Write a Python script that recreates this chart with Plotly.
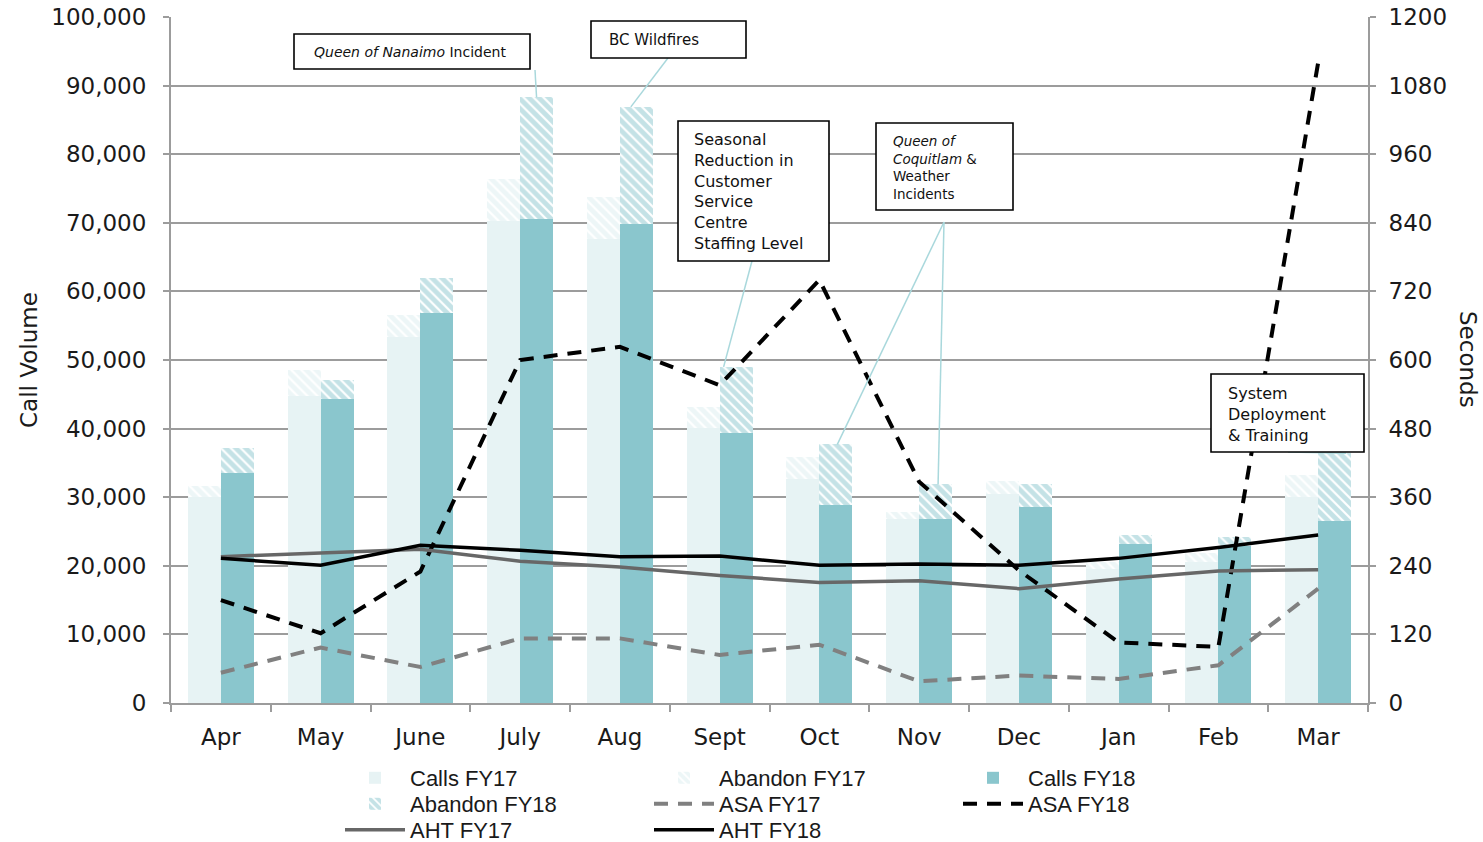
import plotly.graph_objects as go

# ---- data -------------------------------------------------------------
months = ["Apr", "May", "June", "July", "Aug", "Sept",
          "Oct", "Nov", "Dec", "Jan", "Feb", "Mar"]

calls_fy17 = [30000, 44800, 53400, 70200, 67700, 40100,
              32700, 26800, 30500, 19500, 20600, 30000]
abandon_fy17 = [1600, 3800, 3200, 6200, 6000, 3000,
                3100, 1100, 1800, 1100, 1300, 3300]
calls_fy18 = [33600, 44300, 56800, 70500, 69800, 39300,
              28900, 26800, 28600, 23200, 22900, 26600]
abandon_fy18 = [3600, 2800, 5200, 17800, 17100, 9700,
                8800, 5100, 3300, 1300, 1300, 9800]

asa_fy17 = [53, 97, 63, 113, 113, 84, 102, 38, 48, 42, 66, 200]
asa_fy18 = [180, 122, 230, 600, 623, 556, 740, 387, 232, 106, 98, 1120]
aht_fy17 = [256, 262, 269, 248, 238, 223, 211, 214, 200, 217, 231, 233]
aht_fy18 = [253, 241, 276, 267, 256, 257, 241, 243, 241, 253, 272, 294]

total_fy18 = [c + a for c, a in zip(calls_fy18, abandon_fy18)]

# ---- styling ------------------------------------------------------------
W, H = 1483, 842
ML, MR, MT, MB = 171, 115, 17, 139
PW, PH = W - ML - MR, H - MT - MB

TEAL = "#8AC6CD"
TEAL_LIGHT = "#E7F3F4"
HATCH17 = "#DCEEF0"
CONNECT = "#A9D8DC"
GRID = "#9C9C9C"
MAINFONT = "DejaVu Sans, Verdana, sans-serif"
TICKFONT = dict(family=MAINFONT, size=23, color="#1a1a1a")
LEGFONT = dict(size=22, family="Liberation Sans, Arial, sans-serif", color="#1a1a1a")
BAR_W = 0.33


def px(x):
    return (x - ML) / PW


def py(y):
    return (H - MB - y) / PH


def cat_x(xpix):
    # pixel x -> category index units
    return (xpix - ML) / (PW / len(months)) - 0.5


def val_y(ypix):
    # pixel y -> call volume units
    return (H - MB - ypix) / PH * 100000


fig = go.Figure()

fig.add_trace(go.Bar(
    x=months, y=calls_fy17, name="Calls FY17", legend="legend",
    width=BAR_W, offset=-BAR_W, marker=dict(color=TEAL_LIGHT, line=dict(width=0)),
))
fig.add_trace(go.Bar(
    x=months, y=abandon_fy17, base=calls_fy17, name="Abandon FY17", legend="legend",
    width=BAR_W, offset=-BAR_W,
    marker=dict(color="white", line=dict(width=0),
                pattern=dict(shape="\\", fgcolor=HATCH17, bgcolor="white",
                             size=7, solidity=0.7, fillmode="overlay")),
))
fig.add_trace(go.Bar(
    x=months, y=calls_fy18, name="Calls FY18", legend="legend",
    width=BAR_W, offset=0, marker=dict(color=TEAL, line=dict(width=0)),
))
fig.add_trace(go.Bar(
    x=months, y=abandon_fy18, base=calls_fy18, name="Abandon FY18", legend="legend2",
    width=BAR_W, offset=0,
    marker=dict(color="white", line=dict(width=0),
                pattern=dict(shape="\\", fgcolor=TEAL, bgcolor="white",
                             size=7, solidity=0.7, fillmode="overlay")),
))
fig.add_trace(go.Scatter(
    x=months, y=asa_fy17, name="ASA FY17", yaxis="y2", mode="lines", legend="legend2",
    line=dict(color="#808080", width=4, dash="14px,10px"),
))
fig.add_trace(go.Scatter(
    x=months, y=asa_fy18, name="ASA FY18", yaxis="y2", mode="lines", legend="legend2",
    line=dict(color="black", width=4, dash="14px,10px"),
))
fig.add_trace(go.Scatter(
    x=months, y=aht_fy17, name="AHT FY17", yaxis="y2", mode="lines", legend="legend3",
    line=dict(color="#676767", width=3.5),
))
fig.add_trace(go.Scatter(
    x=months, y=aht_fy18, name="AHT FY18", yaxis="y2", mode="lines", legend="legend3",
    line=dict(color="black", width=3.5),
))

# ---- callout boxes ------------------------------------------------------
boxes = [
    # (x0, y0, x1, y1) in pixels
    (294, 34, 530, 69),
    (591, 21, 746, 58),
    (678, 121, 829, 261),
    (876, 123, 1013, 210),
    (1211, 374, 1364, 452),
]
shapes = []

# connectors from boxes to bar tops
connectors = [
    # (bar index, offset within category, box anchor px x, px y)
    (3, 0.165, 535, 70),
    (4, 0.11, 668, 58),
    (5, 0.04, 752, 261),
    (6, 0.18, 944, 222),
    (7, 0.19, 944, 222),
    (11, 0.28, 1288, 452),
]
for idx, off, bx, by in connectors:
    shapes.append(dict(
        type="line", xref="x", yref="y",
        x0=idx + off, y0=total_fy18[idx], x1=cat_x(bx), y1=val_y(by),
        line=dict(color=CONNECT, width=1.5), layer="above",
    ))

for x0, y0, x1, y1 in boxes:
    shapes.append(dict(
        type="rect", xref="paper", yref="paper",
        x0=px(x0), x1=px(x1), y0=py(y1), y1=py(y0),
        line=dict(color="black", width=1.6), fillcolor="white", layer="above",
    ))

annotations = [
    dict(text="<i>Queen of Nanaimo</i> Incident", x=px(312), y=py(52),
         font=dict(size=14, family=MAINFONT, color="#111")),
    dict(text="BC Wildfires", x=px(607), y=py(40),
         font=dict(size=15, family=MAINFONT, color="#111")),
    dict(text="Seasonal<br>Reduction in<br>Customer<br>Service<br>Centre<br>Staffing Level",
         x=px(692), y=py(191), font=dict(size=16, family=MAINFONT, color="#111")),
    dict(text="<i>Queen of</i><br><i>Coquitlam</i> &<br>Weather<br>Incidents",
         x=px(891), y=py(167), font=dict(size=13.5, family=MAINFONT, color="#111")),
    dict(text="System<br>Deployment<br>& Training",
         x=px(1226), y=py(414), font=dict(size=16, family=MAINFONT, color="#111")),
]
for a in annotations:
    a.update(xref="paper", yref="paper", xanchor="left", yanchor="middle",
             align="left", showarrow=False)

# axis titles
annotations.append(dict(
    text="Call Volume", xref="paper", yref="paper", x=px(29), y=py(360),
    textangle=-90, showarrow=False, xanchor="center", yanchor="middle",
    font=dict(size=23, family=MAINFONT, color="#1a1a1a"),
))
annotations.append(dict(
    text="Seconds", xref="paper", yref="paper", x=px(1468), y=py(359),
    textangle=90, showarrow=False, xanchor="center", yanchor="middle",
    font=dict(size=23, family=MAINFONT, color="#1a1a1a"),
))


def legend_row(ypix):
    return dict(
        orientation="h", x=px(340), y=py(ypix), xanchor="left", yanchor="middle",
        entrywidth=234, traceorder="normal", font=LEGFONT,
        itemwidth=60, bgcolor="rgba(0,0,0,0)",
    )


fig.update_layout(
    width=W, height=H,
    margin=dict(l=ML, r=MR, t=MT, b=MB, pad=0, autoexpand=False),
    paper_bgcolor="white", plot_bgcolor="white",
    barmode="overlay", bargap=0,
    showlegend=True,
    legend=legend_row(778),
    legend2=legend_row(804),
    legend3=legend_row(830),
    xaxis=dict(
        categoryorder="array", categoryarray=months,
        tickson="boundaries", ticks="outside", ticklen=7, tickwidth=1.5,
        tickcolor=GRID, showline=True, linecolor=GRID, linewidth=2,
        showgrid=False, tickfont=TICKFONT, range=[-0.5, 11.5],
        ticklabelstandoff=12,
    ),
    yaxis=dict(
        range=[0, 100000], dtick=10000, tickformat=",",
        showgrid=True, gridcolor=GRID, gridwidth=1.5,
        showline=True, linecolor=GRID, linewidth=2,
        ticks="outside", ticklen=6, tickwidth=1.5, tickcolor=GRID,
        tickfont=TICKFONT, ticklabelstandoff=12, zeroline=False,
    ),
    yaxis2=dict(
        range=[0, 1200], dtick=120, overlaying="y", side="right",
        showgrid=False, showline=True, linecolor=GRID, linewidth=2,
        ticks="outside", ticklen=6, tickwidth=1.5, tickcolor=GRID,
        tickfont=TICKFONT, ticklabelstandoff=8, zeroline=False,
    ),
    shapes=shapes,
    annotations=annotations,
)

fig.write_html("out.html")
